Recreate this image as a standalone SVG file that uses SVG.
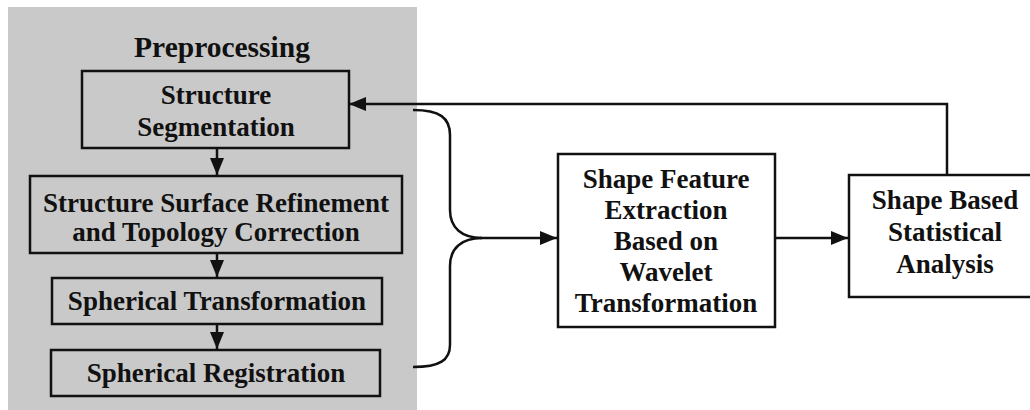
<svg xmlns="http://www.w3.org/2000/svg" width="1030" height="410" viewBox="0 0 1030 410">
<defs>
<marker id="ah" viewBox="0 0 17 14" refX="17" refY="7" markerWidth="17" markerHeight="14" markerUnits="userSpaceOnUse" orient="auto">
<path d="M0,0 L17,7 L0,14 Z" fill="#111"/>
</marker>
<style>
.box{fill:none;stroke:#111;stroke-width:2.5}
.wbox{fill:#fff;stroke:#111;stroke-width:2.5}
.t{font-family:"Liberation Serif","Times New Roman",serif;font-weight:bold;font-size:27px;fill:#111;text-anchor:middle}
.ln{fill:none;stroke:#111;stroke-width:2.5}
</style>
</defs>
<rect x="0" y="0" width="1030" height="410" fill="#fff"/>
<rect id="preprocessing-bg" x="8" y="7" width="409" height="403" fill="#c9c9c9"/>
<text class="t" x="222" y="57" style="font-size:29.5px">Preprocessing</text>
<g id="seg">
<rect class="box" x="82" y="71" width="267" height="77"/>
<text class="t" x="216" y="104">Structure</text>
<text class="t" x="216" y="136">Segmentation</text>
</g>
<g id="refine">
<rect class="box" x="30" y="176" width="372" height="77"/>
<text class="t" x="216" y="212">Structure Surface Refinement</text>
<text class="t" x="216" y="241">and Topology Correction</text>
</g>
<g id="sphtrans">
<rect class="box" x="52" y="278" width="330" height="46"/>
<text class="t" x="217" y="310">Spherical Transformation</text>
</g>
<g id="sphreg">
<rect class="box" x="51" y="350" width="329" height="46"/>
<text class="t" x="216" y="382">Spherical Registration</text>
</g>
<g id="feature">
<rect class="wbox" x="558" y="154" width="217" height="173"/>
<text class="t" x="666" y="188">Shape Feature</text>
<text class="t" x="666" y="219">Extraction</text>
<text class="t" x="666" y="250">Based on</text>
<text class="t" x="666" y="281">Wavelet</text>
<text class="t" x="666" y="312">Transformation</text>
</g>
<g id="stats">
<rect class="wbox" x="849" y="175" width="185" height="122"/>
<text class="t" x="945" y="209">Shape Based</text>
<text class="t" x="945" y="241">Statistical</text>
<text class="t" x="945" y="273">Analysis</text>
</g>
<g id="connectors">
<line class="ln" x1="217" y1="148" x2="217" y2="175" marker-end="url(#ah)"/>
<line class="ln" x1="217" y1="253" x2="217" y2="277" marker-end="url(#ah)"/>
<line class="ln" x1="217" y1="324" x2="217" y2="349" marker-end="url(#ah)"/>
<path class="ln" d="M413,110 C440,110 450,118 450,135 L450,210 C450,228 462,238 482,238 C462,238 450,248 450,266 L450,345 C450,360 440,367 413,367"/>
<line class="ln" x1="480" y1="238" x2="557" y2="238" marker-end="url(#ah)"/>
<line class="ln" x1="775" y1="238" x2="848" y2="238" marker-end="url(#ah)"/>
<polyline class="ln" points="947,175 947,104 349,104" marker-end="url(#ah)"/>
</g>
</svg>
